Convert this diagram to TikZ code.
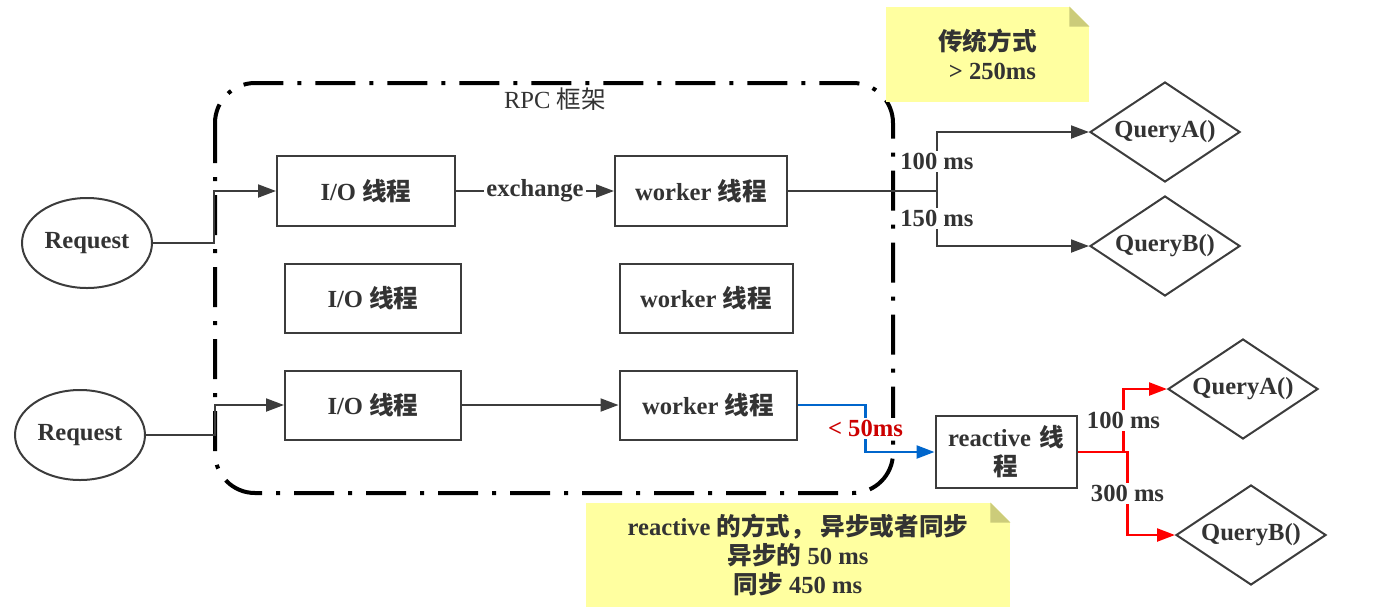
\documentclass[tikz,border=0pt]{standalone}
\usepackage{fontspec}
\setmainfont{Liberation Serif}
\newfontfamily\zhfont{Noto Sans CJK SC}
\newcommand{\zh}[1]{{\zhfont#1}}
\newcommand{\mytext}{\fontsize{12.3}{14.5}\selectfont\bfseries}
\usetikzlibrary{arrows.meta,shapes.geometric}
\definecolor{txtgray}{RGB}{51,51,51}
\definecolor{linegray}{RGB}{60,60,60}
\definecolor{notefill}{RGB}{255,255,160}
\definecolor{notefold}{RGB}{204,204,122}
\definecolor{linkblue}{RGB}{0,102,204}
\definecolor{linkred}{RGB}{255,0,0}
\definecolor{lblred}{RGB}{204,0,0}
\tikzset{
mybox/.style={
  rectangle,
  draw=linegray,
  line width=1pt,
  minimum width=#1,
  minimum height=35pt,
  inner sep=0pt,
  text=txtgray,
  font=\mytext
  },
myell/.style={
  ellipse,
  draw=linegray,
  line width=1pt,
  minimum width=65pt,
  minimum height=45pt,
  inner sep=0pt,
  text=txtgray,
  font=\mytext
  },
mydiam/.style={
  diamond,
  aspect=1.5,
  draw=linegray,
  line width=1pt,
  minimum width=75pt,
  minimum height=50pt,
  inner sep=0pt,
  text=txtgray,
  font=\mytext
  },
mynote/.style={
  rectangle,
  fill=notefill,
  inner sep=0pt,
  align=center,
  text=txtgray,
  font=\mytext
  },
mylbl/.style={fill=white, inner sep=1pt, text=txtgray, font=\mytext},
link/.style={draw=linegray, line width=1pt},
arr/.style={-{Triangle[length=9pt,width=6.5pt]}}
}

\begin{document}
\begin{tikzpicture}[x=0.5pt,y=-0.5pt]
\useasboundingbox (0,0) rectangle (1399,607);

% framework
\draw[black, line width=2pt, rounded corners=20pt,
  dash pattern=on 20pt off 7pt on 2pt off 7pt] (215,83) rectangle (893,493);
\node[text=txtgray, font=\fontsize{12.3}{14.5}\selectfont] (rpc) at (555,99) {RPC \zh{框架}};

\node[myell] (req1) at (87,243) {Request};
\node[myell] (req2) at (80,435) {Request};

\node[mybox=89pt] (io1) at (366,191) {I/O \zh{线程}};
\node[mybox=86pt] (w1) at (701,191) {worker \zh{线程}};
\node[mybox=88pt, minimum height=34.5pt] (io2) at (373,298) {I/O \zh{线程}};
\node[mybox=86.5pt, minimum height=34.5pt] (w2) at (706,298) {worker \zh{线程}};
\node[mybox=88pt, minimum height=34.5pt] (io3) at (373,405) {I/O \zh{线程}};
\node[mybox=88.5pt, minimum height=34.5pt] (w3) at (708,405) {worker \zh{线程}};
\node[mybox=70.5pt, minimum height=36pt, align=center, text width=64pt] (re) at (1006,452)
  {reactive \zh{线}\\\zh{程}};

\node[mydiam] (qa1) at (1165,132) {QueryA()};
\node[mydiam] (qb1) at (1165,246) {QueryB()};
\node[mydiam] (qa2) at (1243,389) {QueryA()};
\node[mydiam] (qb2) at (1251,535) {QueryB()};

\draw[link,arr] (req1.east) -- ++(61,0) |- (io1.west);
\draw[link,arr] (req2.east) -- ++(69,0) |- (io3.west);
\draw[link,arr] (io1) -- node[mylbl]{exchange} (w1);
\draw[link,arr] (io3) -- (w3);

\begin{scope}
\coordinate(split1) at (937,191);
\draw[link] (w1.east) -- (split1);
\draw[link,arr] (split1) |- node[mylbl, pos=0.25]{100 ms} (qa1.west);
\draw[link,arr] (split1) |- node[mylbl, pos=0.25]{150 ms} (qb1.west);
\end{scope}

\begin{scope}[line width=1.2pt]
\draw[linkblue,arr] (w3.east) -- ++(68,0) |- node[mylbl, pos=0.25, text=lblred]{< 50ms} (re.west);
\draw[linkred,arr] (re.east) -- ++(46,0) |- node[mylbl, pos=0.25]{100 ms} (qa2.west);
\draw[linkred,arr] (re.east) -- ++(50,0) |- node[mylbl, pos=0.25]{300 ms} (qb2.west);
\end{scope}

% notes
\node[mynote, minimum width=101.5pt, minimum height=47.5pt] (note1) at (987.5,54.5)
  {\zh{传统方式}\\\hspace*{5pt}> 250ms};
\fill[white] (note1.north east) -- ++(-20,0) -- ++(20,20) -- cycle;
\fill[notefold] ([xshift=-10pt]note1.north east) -- ++(0,20) -- ++(20,0) -- cycle;

\node[mynote, minimum width=212pt, minimum height=52pt] (note2) at (798,555)
  {reactive \zh{的方式，\ 异步或者同步}\\\zh{异步的} 50 ms\\\zh{同步} 450 ms};
\fill[white] (note2.north east) -- ++(-20,0) -- ++(20,20) -- cycle;
\fill[notefold] ([xshift=-10pt]note2.north east) -- ++(0,20) -- ++(20,0) -- cycle;
\end{tikzpicture}
\end{document}
